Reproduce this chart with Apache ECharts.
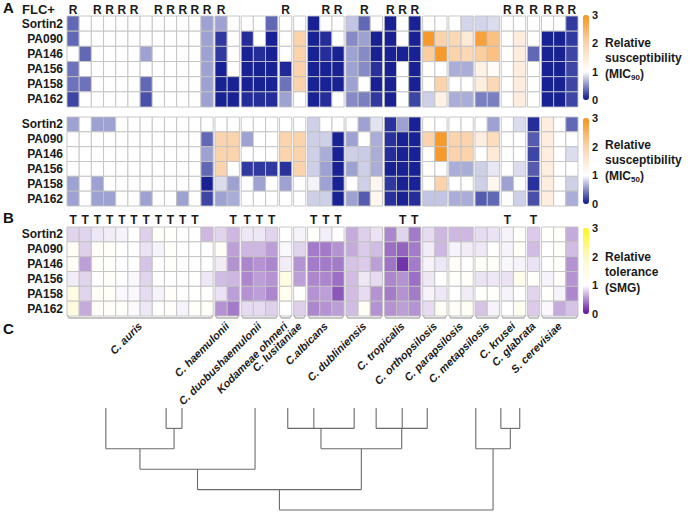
<!DOCTYPE html>
<html><head><meta charset="utf-8">
<script src="https://cdn.jsdelivr.net/npm/echarts@6/dist/echarts.min.js"></script>
<style>html,body{margin:0;padding:0;background:#fff}#c{width:692px;height:512px}</style>
</head><body><div id="c"></div>
<script>
// ---------------- DATA ----------------
const rowNames = ['Sortin2','PA090','PA146','PA156','PA158','PA162'];
const groupNames = ['C. auris','C. haemulonii','C. duobushaemulonii','Kodameae ohmeri','C. lusitaniae','C.albicans','C. dubliniensis','C. tropicalis','C. orthopsilosis','C. parapsilosis','C. metapsilosis','C. krusei','C. glabrata','S. cerevisiae'];
const groupSizes = [12,2,3,1,1,3,3,3,2,2,2,2,1,3];

// relative susceptibility MIC90 (rows x 40 isolates)
const mic90 = [
 [0.35,1,1,1,1,1,1,1,1,1,1,0.6, 0.6,1, 1,1,0.35, 1, 1, 0.05,1,1, 0.75,0.35,1, 0.05,1,0.05, 1,1, 1,0.82, 0.82,0.85, 1,1, 1, 1,1,0.15],
 [0.35,1,1,1,1,1,1,1,1,1,1,0.6, 0.15,1, 0.1,1,0.05, 1, 2.0, 0.05,0.1,1, 0.5,0.6,0.05, 0.05,1,0.05, 2.9,2.0, 1.9,1.5, 2.8,2.3, 1,1.4, 1, 0.05,0.05,0.15],
 [1,0.35,1,1,1,1,0.6,1,1,1,1,0.6, 0.15,1, 0.05,0.1,0.05, 1, 2.0, 0.05,0.1,0.05, 0.6,0.5,0.05, 0.05,0.05,0.05, 2.1,2.9, 2.0,1.9, 2.1,2.3, 1,1.4, 0.35, 0.05,0.05,0.2],
 [0.4,1,1,1,1,1,1,1,1,1,1,0.6, 0.05,1, 0.05,0.05,0.05, 0.08, 2.0, 0.05,0.05,0.05, 0.6,0.5,0.12, 0.05,1,0.05, 1,1, 0.65,0.65, 1.3,1.1, 1,1.4, 1, 0.05,0.05,0.2],
 [0.4,0.4,1,1,1,1,0.35,1,1,1,1,0.6, 0.05,0.05, 0.05,0.05,0.05, 0.4, 2.0, 0.05,0.05,0.05, 0.6,1,0.05, 0.05,1,0.05, 1,2.0, 1,1, 1.4,1.9, 1,1.4, 1, 0.05,0.05,0.2],
 [0.2,1,1,1,1,1,0.25,1,1,1,1,0.6, 0.05,0.05, 0.1,0.1,0.1, 0.6, 1, 0.05,0.1,1, 0.5,0.45,0.15, 0.05,1,0.2, 0.8,1.3, 0.65,0.65, 0.45,0.45, 1,1.4, 1, 0.05,0.05,0.2]
];
// relative susceptibility MIC50
const mic50 = [
 [0.6,1,0.6,0.6,1,1,1,1,1,1,1,1, 1,1, 1,1,1, 1, 1, 0.8,1,1, 1,0.6,0.88, 0.12,0.6,0.05, 1,1, 1,1, 1,0.6, 1,0.85, 0.1, 1.4,1,0.35],
 [1,1,1,1,1,1,1,1,1,1,1,0.35, 2.0,2.0, 0.6,1,1, 2.0, 2.0, 0.8,0.8,0.05, 0.6,1,0.65, 0.12,0.05,0.05, 2.0,2.9, 2.0,2.0, 1.4,1.8, 1,1, 0.3, 1.4,1,1],
 [1,1,1,1,1,1,1,1,1,1,1,0.6, 2.0,2.0, 1,1,1, 2.0, 2.0, 0.8,0.65,0.05, 0.8,0.78,0.65, 0.1,0.05,0.05, 1,2.9, 2.0,2.0, 1,1.5, 1,1, 0.2, 1.4,1,0.85],
 [1,1,1,1,1,1,1,1,1,1,1,0.35, 2.0,1, 0.15,0.15,0.15, 0.12, 2.0, 0.8,0.6,0.05, 0.6,0.8,0.65, 0.05,0.05,0.05, 1,1, 0.65,0.65, 0.8,0.9, 1,0.85, 0.3, 1.4,1,1],
 [0.6,1,0.6,1,1,1,1,1,1,1,1,0.05, 0.85,0.6, 1,0.6,1, 0.6, 1, 0.95,0.6,0.05, 1,0.8,1.2, 0.15,0.05,0.05, 1,2.0, 1,1, 0.8,1.2, 0.6,1, 0.12, 1.4,1,0.8],
 [0.6,1,0.6,0.6,1,1,0.6,1,1,0.6,1,0.2, 0.6,0.65, 1,1,1, 1, 1, 0.8,0.8,0.05, 0.6,0.3,1.2, 0.12,0.05,0.1, 0.75,0.75, 0.65,0.65, 0.3,0.35, 1,0.8, 0.25, 1.4,1,0.65]
];
// relative tolerance (SMG)
const smg = [
 [0.82,0.82,0.9,0.92,0.95,1.0,0.8,1.1,1.05,1.0,1.0,0.7, 0.82,0.7, 0.9,0.9,0.82, 1.0, 0.95, 1.05,0.93,1.0, 0.65,0.8,0.88, 0.5,0.82,0.45, 0.85,0.7, 0.7,0.7, 0.85,0.88, 0.95,1.05, 0.78, 1.05,1.05,0.65],
 [1.15,0.8,1.12,1.12,1.0,1.0,0.88,0.95,1.08,1.0,1.0,1.0, 1.15,0.6, 0.7,0.7,0.6, 0.97, 0.82, 0.45,0.45,0.55, 0.65,0.78,0.72, 0.4,0.35,0.45, 0.92,0.7, 0.95,0.92, 0.9,1.0, 0.95,1.1, 0.72, 1.0,1.08,0.72],
 [1.1,0.6,1.1,1.05,1.0,1.0,0.75,1.0,1.05,1.0,1.0,1.0, 0.92,0.55, 0.5,0.55,0.5, 0.92, 0.55, 0.45,0.45,0.45, 0.75,0.78,0.6, 0.42,0.15,0.45, 0.95,0.9, 1.1,1.0, 1.1,1.08, 0.97,0.95, 0.88, 1.0,1.05,0.55],
 [0.92,0.82,1.0,1.1,1.0,0.97,0.82,1.0,1.0,1.0,1.0,0.9, 0.72,0.7, 0.5,0.6,0.55, 1.5, 0.6, 0.5,0.5,0.4, 0.72,0.9,0.85, 0.5,0.55,0.4, 0.9,1.0, 1.05,1.1, 0.88,0.9, 0.88,1.35, 1.05, 0.95,1.1,0.55],
 [1.5,0.82,1.15,1.12,0.97,0.97,0.85,0.95,1.1,1.0,1.02,1.0, 0.88,0.6, 0.55,0.6,0.5, 1.3, 1.05, 0.55,0.6,0.3, 0.72,0.85,0.55, 0.45,0.55,0.45, 0.95,0.9, 1.0,0.92, 1.05,1.05, 0.95,1.0, 0.82, 1.05,0.95,0.5],
 [1.6,0.65,1.1,1.1,1.05,0.98,0.9,1.05,1.1,0.95,1.08,1.1, 0.55,0.45, 0.85,0.85,0.8, 1.0, 0.8, 0.5,0.55,0.6, 0.72,1.15,0.55, 0.55,0.6,0.55, 0.85,1.15, 1.15,1.2, 0.75,0.95, 1.0,1.25, 0.78, 0.97,0.65,0.75]
];
// isolate columns flagged FLC-resistant (R) and tolerant (T)
const flcResistantCols = [0,2,3,4,5,7,8,9,10,11,12,17,20,21,23,25,26,27,34,35,36,37,38,39];
const tolerantCols = [0,1,2,3,4,5,6,7,8,9,10,13,14,15,16,19,20,21,26,27,34,36];
const scaleTicks = [0,1,2,3];

// dendrogram (panel C): leaves, leaf positions (% of heat-map width), merges [children, level]
const treeLeaves = ['C. auris','C. haemulonii','C. duobushaemulonii','C. lusitaniae','C.albicans','C. dubliniensis','C. tropicalis','C. orthopsilosis','C. parapsilosis','C. metapsilosis','C. krusei','C. glabrata','S. cerevisiae'];
const treeLeafX = [7.6,19.4,22.5,36.8,43.2,48.3,56.2,60.5,65.6,70.5,80.0,84.9,88.6];
const treeMerges = [
 [[1,2],1],[[0,13],2],[[14,3],3],
 [[4,5,6],1],[[7,8,9],1],[[16,17],2],
 [[15,18],4],
 [[11,12],1],[[10,20],2],
 [[19,21],5]
];

// ---------------- DERIVED ----------------
const GAP = 0.15;
const colX = [], groupSpan = [];
(function(){ let c = 0; groupSizes.forEach((n, g) => { const s = c; for (let i = 0; i < n; i++) { colX.push(c + g * GAP); c++; } groupSpan.push([colX[s] - 0.5, colX[c - 1] + 0.5]); }); })();
const xMin = -0.5, xMax = colX[colX.length - 1] + 0.5;

function cells(m){ const d = []; m.forEach((row, r) => row.forEach((v, j) => d.push([colX[j], r, v]))); return d; }

const nodeX = treeLeafX.slice(), nodeH = treeLeaves.map(() => 0), treeSegs = [];
treeMerges.forEach(([kids, h]) => {
  const xs = kids.map(k => nodeX[k]);
  const lo = Math.min(...xs), hi = Math.max(...xs);
  kids.forEach(k => treeSegs.push([nodeX[k], nodeH[k], nodeX[k], h]));
  treeSegs.push([lo, h, hi, h]);
  nodeX.push((lo + hi) / 2); nodeH.push(h);
});

const FONT = 'Liberation Sans, Arial, Helvetica, sans-serif';
const micColors = ['#0c168e', '#ffffff', '#fbd4ae', '#f7941d'];
const smgColors = ['#5a0f9c', '#ffffff', '#fcf9c6', '#fbf71e'];

function cellItem(params, api){
  const x = api.value(0), r = api.value(1);
  const a = api.coord([x - 0.5, r]), b = api.coord([x + 0.5, r]);
  const bh = api.size([0, 1])[1];
  return {type:'rect', shape:{x:a[0], y:a[1] - bh/2, width:b[0] - a[0], height:bh},
    style:{fill:api.visual('color'), stroke:'#c2c2c2', lineWidth:0.9}};
}
function flagItem(letter, dy){
  return function(params, api){
    const p = api.coord([api.value(0), 0]);
    const bh = api.size([0, 1])[1];
    return {type:'text', x:p[0], y:p[1] - bh/2 - dy,
      style:{text:letter, align:'center', verticalAlign:'middle', fontSize:12, fontWeight:'bold', fontFamily:FONT, fill:'#1a1a1a'}};
  };
}
function groupItem(params, api){
  const s = api.value(0), e = api.value(1), gi = api.value(3);
  const last = rowNames.length - 1;
  const yb = api.coord([s, last])[1] + api.size([0, 1])[1] / 2;
  const a = api.coord([s, last])[0], b = api.coord([e, last])[0];
  return {type:'group', children:[
    {type:'polyline', shape:{points:[[a + 0.5, yb - 0.5], [a + 2, yb + 2], [b - 2, yb + 2], [b - 0.5, yb - 0.5]]},
      style:{stroke:'#b3b3b3', lineWidth:1.3, fill:null}},
    {type:'text', x:(a + b) / 2, y:yb + 8, rotation:Math.PI / 4,
      style:{text:groupNames[gi], align:'right', verticalAlign:'middle', fontSize:11, fontWeight:'bold', fontStyle:'italic', fontFamily:FONT, fill:'#1a1a1a'}}
  ]};
}
function treeItem(params, api){
  const p = api.coord([api.value(0), api.value(1)]), q = api.coord([api.value(2), api.value(3)]);
  return {type:'line', shape:{x1:p[0], y1:p[1], x2:q[0], y2:q[1]}, style:{stroke:'#6a6a6a', lineWidth:1.1}};
}

const heatGrids = [{top:16, height:91}, {top:117, height:89}, {top:227, height:89}];
const barGrids = [{top:15, height:85}, {top:118, height:86}, {top:228, height:86}];

const grid = [], xAxis = [], yAxis = [];
heatGrids.forEach(g => {
  grid.push({left:67, width:511, top:g.top, height:g.height, containLabel:false, outerBoundsMode:'none'});
  xAxis.push({type:'value', gridIndex:grid.length - 1, min:xMin, max:xMax, show:false});
  yAxis.push({type:'category', gridIndex:grid.length - 1, data:rowNames, inverse:true,
    axisLine:{show:false}, axisTick:{show:false}, splitLine:{show:false},
    axisLabel:{interval:0, fontSize:12, fontWeight:'bold', color:'#1a1a1a', margin:4, fontFamily:FONT}});
});
// tree grid
grid.push({left:67, width:511, top:408, height:102, containLabel:false, outerBoundsMode:'none'});
xAxis.push({type:'value', gridIndex:3, min:0, max:100, show:false});
yAxis.push({type:'value', gridIndex:3, min:0, max:5, inverse:true, show:false});
// colour-bar tick grids
barGrids.forEach(g => {
  grid.push({left:583, width:6, top:g.top, height:g.height, containLabel:false, outerBoundsMode:'none'});
  const gi = grid.length - 1;
  xAxis.push({type:'value', gridIndex:gi, show:false});
  yAxis.push({type:'value', gridIndex:gi, min:scaleTicks[0], max:scaleTicks[scaleTicks.length - 1], interval:1, position:'right',
    axisLine:{show:false}, axisTick:{show:false}, splitLine:{show:false},
    axisLabel:{fontSize:11, fontWeight:'bold', color:'#1a1a1a', margin:3, fontFamily:FONT}});
});

const series = [
  {type:'custom', xAxisIndex:0, yAxisIndex:0, renderItem:cellItem, data:cells(mic90), encode:{x:0, y:1}},
  {type:'custom', xAxisIndex:1, yAxisIndex:1, renderItem:cellItem, data:cells(mic50), encode:{x:0, y:1}},
  {type:'custom', xAxisIndex:2, yAxisIndex:2, renderItem:cellItem, data:cells(smg), encode:{x:0, y:1}},
  {type:'custom', xAxisIndex:0, yAxisIndex:0, renderItem:flagItem('R', 6), data:flcResistantCols.map(j => [colX[j], 0]), encode:{x:0, y:1}, silent:true},
  {type:'custom', xAxisIndex:2, yAxisIndex:2, renderItem:flagItem('T', 7), data:tolerantCols.map(j => [colX[j], 0]), encode:{x:0, y:1}, silent:true},
  {type:'custom', xAxisIndex:2, yAxisIndex:2, renderItem:groupItem, data:groupSpan.map((s, i) => [s[0], s[1], rowNames.length - 1, i]), encode:{x:[0, 1], y:2}, silent:true},
  {type:'custom', xAxisIndex:3, yAxisIndex:3, renderItem:treeItem, data:treeSegs, encode:{x:[0, 2], y:[1, 3]}, silent:true}
];

const vmBase = {type:'continuous', dimension:2, min:0, max:3, left:583, itemWidth:6, calculable:false, padding:0, hoverLink:false, textStyle:{color:'transparent'}};
const visualMap = [
  Object.assign({}, vmBase, {seriesIndex:0, top:barGrids[0].top, itemHeight:barGrids[0].height, inRange:{color:micColors}}),
  Object.assign({}, vmBase, {seriesIndex:1, top:barGrids[1].top, itemHeight:barGrids[1].height, inRange:{color:micColors}}),
  Object.assign({}, vmBase, {seriesIndex:2, top:barGrids[2].top, itemHeight:barGrids[2].height, inRange:{color:smgColors}})
];

const legendStyle = {fontSize:12, fontWeight:'bold', color:'#1a1a1a', lineHeight:15.5, fontFamily:FONT,
  rich:{s:{fontSize:8, fontWeight:'bold', color:'#1a1a1a', verticalAlign:'bottom', lineHeight:13, fontFamily:FONT}}};
const title = [
  {text:'A', left:3, top:0, padding:0, textStyle:{fontSize:15, fontWeight:'bold', color:'#111', fontFamily:FONT}},
  {text:'B', left:3, top:210, padding:0, textStyle:{fontSize:15, fontWeight:'bold', color:'#111', fontFamily:FONT}},
  {text:'C', left:3, top:321, padding:0, textStyle:{fontSize:15, fontWeight:'bold', color:'#111', fontFamily:FONT}},
  {text:'FLC+', left:22, top:3, padding:0, textStyle:{fontSize:13, fontWeight:'bold', color:'#1a1a1a', fontFamily:FONT}},
  {text:'Relative\nsusceptibility\n(MIC{s|90})', left:605, top:35, padding:0, textStyle:legendStyle},
  {text:'Relative\nsusceptibility\n(MIC{s|50})', left:605, top:137, padding:0, textStyle:legendStyle},
  {text:'Relative\ntolerance\n(SMG)', left:605, top:249, padding:0, textStyle:legendStyle}
];

const chart = echarts.init(document.getElementById('c'), null, {renderer:'svg'});
chart.setOption({animation:false, backgroundColor:'#fff', textStyle:{fontFamily:FONT}, title, grid, xAxis, yAxis, visualMap, series});
</script></body></html>
